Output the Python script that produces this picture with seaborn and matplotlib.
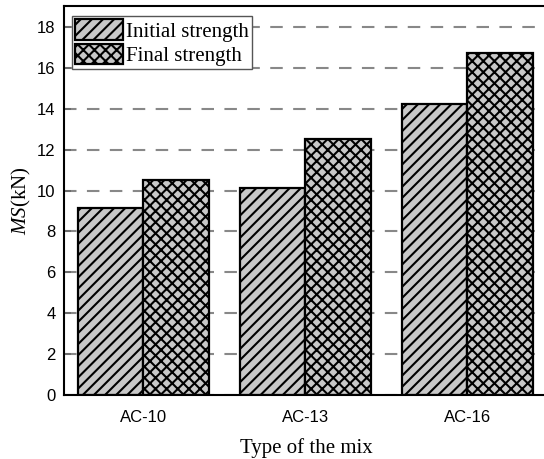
import matplotlib
matplotlib.use("Agg")
import matplotlib.pyplot as plt
import seaborn as sns
import pandas as pd
from matplotlib.patches import Patch

categories = ["AC-10", "AC-13", "AC-16"]
initial_strength = [9.15, 10.15, 14.25]
final_strength = [10.5, 12.5, 16.75]
series_names = ["Initial strength", "Final strength"]
yticks = [0, 2, 4, 6, 8, 10, 12, 14, 16, 18]

df = pd.DataFrame({
    "mix": categories * 2,
    "MS": initial_strength + final_strength,
    "series": [series_names[0]] * 3 + [series_names[1]] * 3,
})

sns.set_style("white")
plt.rcParams["hatch.linewidth"] = 1.5
plt.rcParams["mathtext.fontset"] = "custom"
plt.rcParams["mathtext.it"] = "Liberation Serif:italic"
plt.rcParams["mathtext.rm"] = "Liberation Serif"
plt.rcParams["text.color"] = "black"
plt.rcParams["axes.labelcolor"] = "black"
plt.rcParams["xtick.color"] = "black"
plt.rcParams["ytick.color"] = "black"

fig = plt.figure(figsize=(5.44, 4.59), dpi=100)
ax = fig.add_axes([64 / 544, 1 - 395 / 459, 484 / 544, 389 / 459])

face = "#c8c8c8"
sns.barplot(data=df, x="mix", y="MS", hue="series", order=categories,
            hue_order=series_names, palette=[face, face], width=0.81,
            edgecolor="black", linewidth=1.5, ax=ax, legend=False, saturation=1)

hatches = ["///", "xxx"]
for cont, h in zip(ax.containers, hatches):
    for bar in cont:
        bar.set_hatch(h)
        bar.set_edgecolor("black")
        bar.set_linewidth(1.6)

ax.set_xlim(-0.49, 2.5)
ax.set_ylim(0, 19.03)
ax.set_yticks(yticks)
ax.set_axisbelow(True)
ax.yaxis.grid(True, linestyle=(0, (6, 5)), color="#888888", linewidth=1.5)
ax.xaxis.grid(False)

for s in ["left", "bottom", "top"]:
    ax.spines[s].set_visible(True)
    ax.spines[s].set_color("black")
    ax.spines[s].set_linewidth(1.5)
ax.spines["right"].set_visible(False)

ax.tick_params(axis="y", direction="in", length=5, width=1.2, color="#666666",
               labelcolor="black", pad=6, left=True)
ax.tick_params(axis="x", length=0, pad=11, labelcolor="black")
for lab in ax.get_xticklabels() + ax.get_yticklabels():
    lab.set_fontfamily("Liberation Sans")
    lab.set_fontsize(12)

ax.set_xlabel("Type of the mix", fontfamily="Liberation Serif", fontsize=15,
              labelpad=9, color="black")
ax.set_ylabel(r"$\mathit{MS}$(kN)", fontfamily="Liberation Serif", fontsize=15,
              labelpad=3, color="black")

handles = [Patch(facecolor=face, edgecolor="black", hatch=h, linewidth=1.6) for h in hatches]
leg = ax.legend(handles, series_names, loc="upper left", bbox_to_anchor=(0.008, 0.985),
                prop={"family": "Liberation Serif", "size": 15}, frameon=True,
                fancybox=False, edgecolor="#555555", framealpha=1,
                handlelength=2.3, handleheight=1.15, handletextpad=0.15,
                labelspacing=0.1, borderpad=0.15, borderaxespad=0.2,
                labelcolor="black")
leg.get_frame().set_linewidth(1.0)

fig.savefig("out.png", dpi=100)
